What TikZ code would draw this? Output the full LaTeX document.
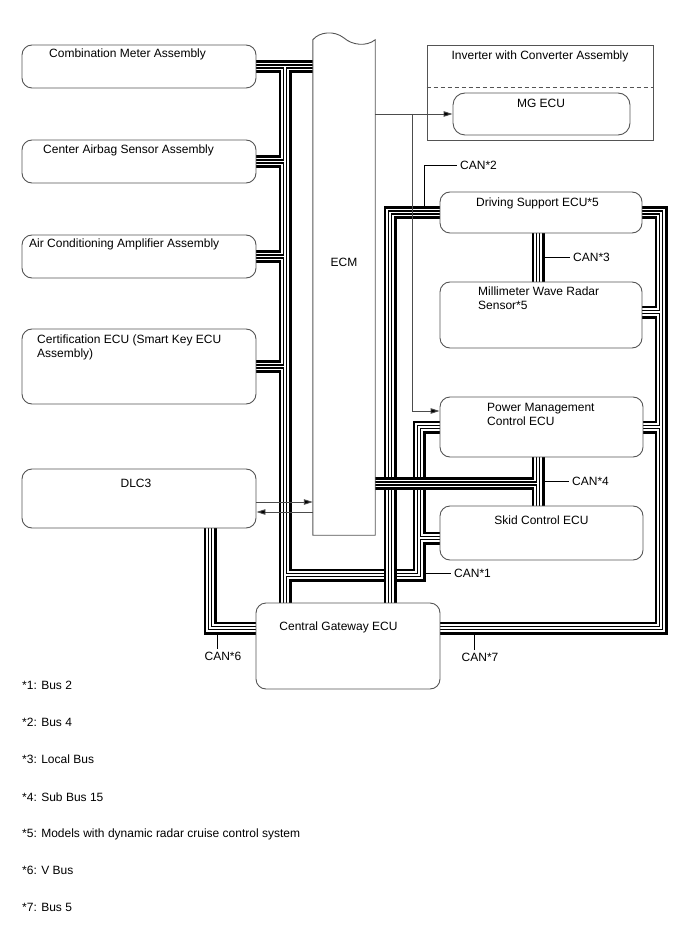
\documentclass[tikz,border=0pt]{standalone}
\usepackage{fontspec}
\setmainfont{Liberation Sans}
\usetikzlibrary{arrows.meta,backgrounds}
\definecolor{boxgray}{rgb}{0.33,0.33,0.33}
\definecolor{wiregray}{rgb}{0.30,0.30,0.30}

\begin{document}
\begin{tikzpicture}[x=1pt,y=-1pt,
    ecubox/.style={draw=boxgray, line width=0.9pt, rounded corners=10pt, inner sep=0pt},
    txt/.style={inner sep=0pt, font=\fontsize{12}{14}\selectfont, text height=8.6pt, text depth=0pt},
    mtxt/.style={inner sep=0pt, font=\fontsize{12}{14}\selectfont, align=left, anchor=north west},
    canlab/.style={txt, inner xsep=3pt, inner ysep=3pt},
    canbus/.style={line join=miter,
        preaction={draw=black, line width=13pt, line join=miter},
        preaction={draw=white, line width=7.4pt, line join=miter},
        preaction={draw=black, line width=4.4pt, line join=miter},
        draw=white, line width=1.6pt},
    sig/.style={draw=wiregray, line width=0.9pt, -{Triangle[length=9pt,width=5.5pt,fill=black]}},
    leader/.style={draw=black, line width=0.8pt}]
    \useasboundingbox (0,0) rectangle (688,949);

    \node[ecubox, minimum width=234pt, minimum height=43pt] (meter)  at (139,66.5)  {};
    \node[ecubox, minimum width=234pt, minimum height=43pt] (airbag) at (139,161.5) {};
    \node[ecubox, minimum width=234pt, minimum height=43pt] (aircon) at (139,256.5) {};
    \node[ecubox, minimum width=234pt, minimum height=75pt] (certif) at (139,366.5) {};
    \node[ecubox, minimum width=234pt, minimum height=59pt] (dlc)    at (139,498.5) {};
    \node[minimum width=62pt, minimum height=495pt, inner sep=0pt] (ecm) at (344,287.5) {};
    \node[draw=boxgray, line width=0.9pt, minimum width=226pt, minimum height=95pt, inner sep=0pt] (inv) at (540,92.5) {};
    \node[ecubox, rounded corners=12pt, minimum width=177pt, minimum height=42pt] (mg) at (541.5,114) {};
    \node[ecubox, minimum width=202pt, minimum height=41pt] (dss)   at (541,212.5) {};
    \node[ecubox, minimum width=202pt, minimum height=66pt] (radar) at (541,315)   {};
    \node[ecubox, minimum width=203pt, minimum height=60pt] (pmc)   at (541.5,427) {};
    \node[ecubox, minimum width=203pt, minimum height=54pt] (skid)  at (541.5,533) {};
    \node[ecubox, minimum width=184pt, minimum height=86pt] (cgw)   at (348,646)   {};

    \draw[draw=boxgray, line width=0.9pt] (ecm.north west) .. controls (319,32) and (334,30) .. (344,38)
        .. controls (352,45) and (366,47) .. (ecm.north east) -- (ecm.south east) -- (ecm.south west) -- cycle;
    \draw[draw=boxgray, line width=0.9pt, dash pattern=on 4pt off 3pt] ([yshift=5.5pt]inv.west) -- ([yshift=5.5pt]inv.east);

    \node[txt, anchor=west] (tmeter)  at (49,53)  {Combination Meter Assembly};
    \node[txt, anchor=west] (tairbag) at (43,149) {Center Airbag Sensor Assembly};
    \node[txt, anchor=west] (taircon) at (29,243) {Air Conditioning Amplifier Assembly};
    \node[mtxt] (tcertif) at (37,334.5) {Certification ECU (Smart Key ECU\\Assembly)};
    \node[txt] (tdlc)   at (136,483)   {DLC3};
    \node[txt] (tecm)   at (344,262)   {ECM};
    \node[txt] (tinv)   at (540,55)    {Inverter with Converter Assembly};
    \node[txt] (tmg)    at (541,103)   {MG ECU};
    \node[txt] (tdss)   at (537.5,202) {Driving Support ECU*5};
    \node[mtxt] (tradar) at (478,286.7) {Millimeter Wave Radar\\Sensor*5};
    \node[mtxt] (tpmc)   at (487,402.7) {Power Management\\Control ECU};
    \node[txt] (tskid)  at (541.5,520) {Skid Control ECU};
    \node[txt] (tcgw)   at (338.5,626) {Central Gateway ECU};

    \coordinate (ltop) at (285,66.5);
    \coordinate (c1) at (419,575);
    \coordinate (c2) at (390,212.5);
    \coordinate (c4) at (538,483.5);
    \coordinate (c6) at (210,628);
    \coordinate (c7) at (661,628);

    \begin{scope}[on background layer]
        \draw[canbus] (meter.east) -- (ecm.west |- meter.east)
            (ltop) -- (ltop |- cgw.north)
            (airbag.east) -- (airbag.east -| ltop)
            (aircon.east) -- (aircon.east -| ltop)
            (certif.east) -- (certif.east -| ltop)
            (ltop |- c1) -- (c1) -- (c1 |- pmc.west) -- (pmc.west)
            ([yshift=-5pt]skid.west) -- ([yshift=-5pt]skid.west -| c1);
        \draw[canbus] (dss.west) -- (c2) -- (c2 |- cgw.north);
        \draw[canbus] (c4 |- pmc.south) -- (c4 |- skid.north)
            (ecm.east |- c4) -- (c4);
        \draw[canbus] (dss.east) -- (c7 |- dss.east) -- (c7) -- (c7 -| cgw.east)
            ([yshift=3pt]radar.east) -- ([yshift=3pt]radar.east -| c7)
            (pmc.east) -- (pmc.east -| c7);
        \draw[canbus] (c4 |- dss.south) -- (c4 |- radar.north);
        \draw[canbus] (c6 |- dlc.south) -- (c6) -- (c6 -| cgw.west);
    \end{scope}

    \coordinate (split) at (412,114);
    \draw[sig] (ecm.east |- mg.west) -- (mg.west);
    \draw[sig] (split) |- ([yshift=16pt]pmc.west);
    \draw[sig] ([yshift=-3.5pt]dlc.east) -- ([yshift=-3.5pt]dlc.east -| ecm.west);
    \draw[sig] ([yshift=-13.5pt]dlc.east -| ecm.west) -- ([yshift=-13.5pt]dlc.east);

    \node[canlab, anchor=west] (lab1) at (451,573) {CAN*1};
    \node[canlab, anchor=west] (lab2) at (457,165) {CAN*2};
    \node[canlab, anchor=west] (lab3) at (570,257) {CAN*3};
    \node[canlab, anchor=west] (lab4) at (569,481) {CAN*4};
    \node[canlab] (lab6) at (223,656) {CAN*6};
    \node[canlab] (lab7) at (480,657) {CAN*7};
    \coordinate (tap1) at (425.5,573);
    \coordinate (tap2) at (424,206);
    \coordinate (tap3) at (544.5,257);
    \coordinate (tap4) at (544.5,481);
    \coordinate (tap6) at (217,634.5);
    \coordinate (tap7) at (474,634.5);
    \draw[leader] (tap1) -- (lab1.west);
    \draw[leader] (tap2) |- (lab2.west);
    \draw[leader] (tap3) -- (lab3.west);
    \draw[leader] (tap4) -- (lab4.west);
    \draw[leader] (tap6) -- (tap6 |- lab6.north);
    \draw[leader] (tap7) -- (tap7 |- lab7.north);

    \node[txt, anchor=west] (note1) at (22,685) {*1: Bus 2};
    \node[txt, anchor=west] (note2) at (22,722) {*2: Bus 4};
    \node[txt, anchor=west] (note3) at (22,759) {*3: Local Bus};
    \node[txt, anchor=west] (note4) at (22,797) {*4: Sub Bus 15};
    \node[txt, anchor=west] (note5) at (22,833) {*5: Models with dynamic radar cruise control system};
    \node[txt, anchor=west] (note6) at (22,870) {*6: V Bus};
    \node[txt, anchor=west] (note7) at (22,907) {*7: Bus 5};
\end{tikzpicture}
\end{document}
